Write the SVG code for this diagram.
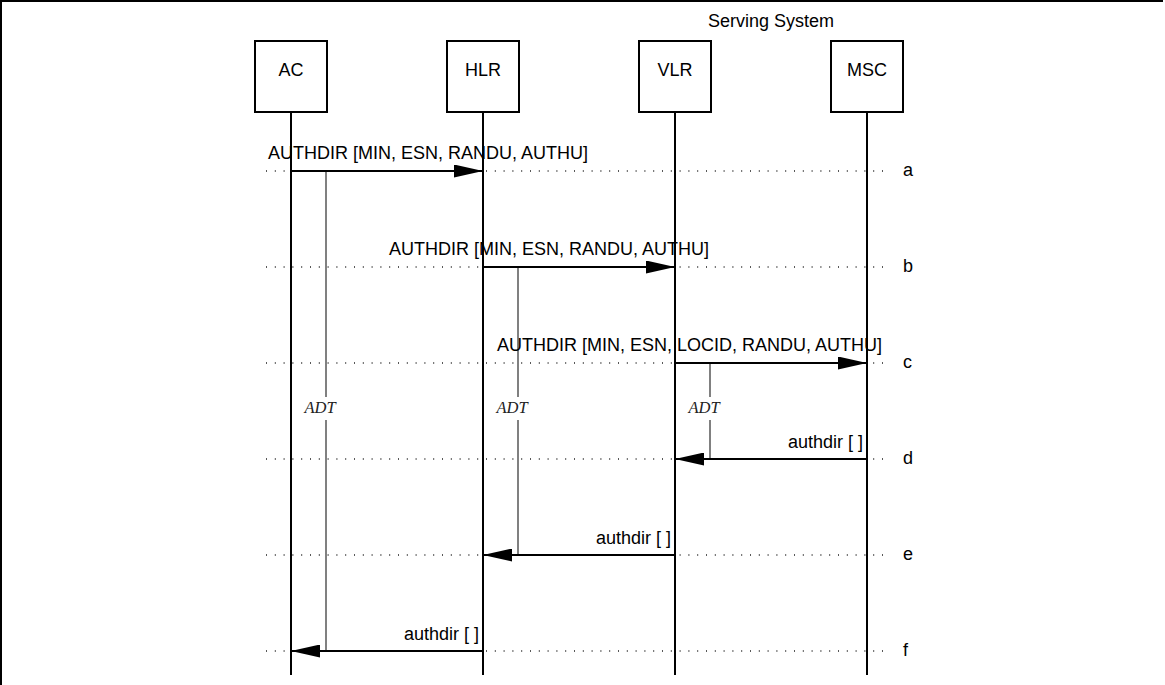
<svg xmlns="http://www.w3.org/2000/svg" width="1165" height="685" viewBox="0 0 1165 685">
<defs>
<style>
.box{fill:#fff;stroke:#000;stroke-width:2}
.lbl{font-family:"Liberation Sans",Arial,sans-serif;font-size:18px;fill:#000}
.mid{text-anchor:middle}
.end{text-anchor:end}
.life{stroke:#000;stroke-width:2;fill:none}
.dot{stroke:#222;stroke-width:1.5;stroke-dasharray:1 7.8;fill:none}
.msg{stroke:#000;stroke-width:2;fill:none}
.adt{stroke:#808080;stroke-width:2;fill:none}
.adtt{font-family:"Liberation Serif","Times New Roman",serif;font-style:italic;font-size:16.5px;fill:#222;text-anchor:middle}
</style>
<marker id="ah" viewBox="0 0 29 13" refX="29" refY="6.5" markerWidth="29" markerHeight="13" markerUnits="userSpaceOnUse" orient="auto">
<path d="M0,0 L29,6.5 L0,13 Z" fill="#000"/>
</marker>
</defs>
<rect width="1165" height="685" fill="#fff"/>
<path d="M1,685 V1 H1163" fill="none" stroke="#000" stroke-width="2"/>
<text class="lbl mid" x="771" y="27">Serving System</text>
<g id="grid">
<line class="dot" x1="266" y1="171" x2="890" y2="171"/>
<line class="dot" x1="266" y1="267" x2="890" y2="267"/>
<line class="dot" x1="266" y1="363" x2="890" y2="363"/>
<line class="dot" x1="266" y1="459" x2="890" y2="459"/>
<line class="dot" x1="266" y1="555" x2="890" y2="555"/>
<line class="dot" x1="266" y1="651" x2="890" y2="651"/>
<text class="lbl" x="903" y="176">a</text>
<text class="lbl" x="903" y="272">b</text>
<text class="lbl" x="903" y="368">c</text>
<text class="lbl" x="903" y="464">d</text>
<text class="lbl" x="903" y="560">e</text>
<text class="lbl" x="903" y="656">f</text>
</g>
<g id="AC">
<line class="life" x1="291" y1="112" x2="291" y2="675"/>
<rect class="box" x="255" y="41" width="72" height="71"/>
<text class="lbl mid" x="291" y="76">AC</text>
</g>
<g id="HLR">
<line class="life" x1="483" y1="112" x2="483" y2="675"/>
<rect class="box" x="447" y="41" width="72" height="71"/>
<text class="lbl mid" x="483" y="76">HLR</text>
</g>
<g id="VLR">
<line class="life" x1="675" y1="112" x2="675" y2="675"/>
<rect class="box" x="639" y="41" width="72" height="71"/>
<text class="lbl mid" x="675" y="76">VLR</text>
</g>
<g id="MSC">
<line class="life" x1="867" y1="112" x2="867" y2="675"/>
<rect class="box" x="831" y="41" width="72" height="71"/>
<text class="lbl mid" x="867" y="76">MSC</text>
</g>
<g id="timers">
<path class="adt" d="M326,171 V397 M326,420 V651"/>
<text class="adtt" x="320" y="413">ADT</text>
<path class="adt" d="M518,267 V397 M518,420 V555"/>
<text class="adtt" x="512" y="413">ADT</text>
<path class="adt" d="M710,363 V397 M710,420 V459"/>
<text class="adtt" x="704" y="413">ADT</text>
</g>
<g id="connectors">
<line class="msg" x1="291" y1="171" x2="483" y2="171" marker-end="url(#ah)"/>
<text class="lbl" x="268" y="159">AUTHDIR [MIN, ESN, RANDU, AUTHU]</text>
<line class="msg" x1="483" y1="267" x2="675" y2="267" marker-end="url(#ah)"/>
<text class="lbl" x="389" y="255">AUTHDIR [MIN, ESN, RANDU, AUTHU]</text>
<line class="msg" x1="675" y1="363" x2="867" y2="363" marker-end="url(#ah)"/>
<text class="lbl" x="497" y="351">AUTHDIR [MIN, ESN, LOCID, RANDU, AUTHU]</text>
<line class="msg" x1="867" y1="459" x2="675" y2="459" marker-end="url(#ah)"/>
<text class="lbl end" x="863" y="448">authdir [ ]</text>
<line class="msg" x1="675" y1="555" x2="483" y2="555" marker-end="url(#ah)"/>
<text class="lbl end" x="671" y="544">authdir [ ]</text>
<line class="msg" x1="483" y1="651" x2="291" y2="651" marker-end="url(#ah)"/>
<text class="lbl end" x="479" y="640">authdir [ ]</text>
</g>
</svg>
